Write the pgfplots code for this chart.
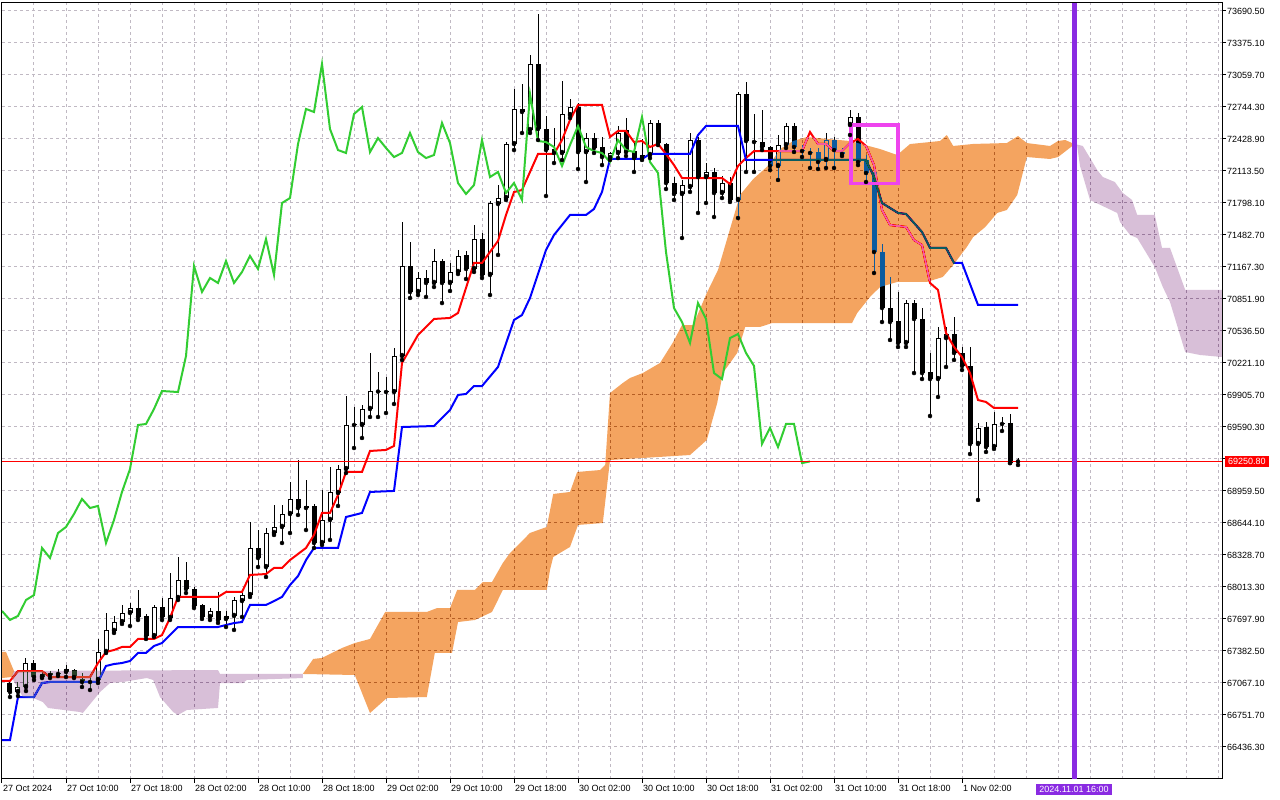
\documentclass[border=0pt]{standalone}
\usepackage{fontspec}
\setmainfont{Liberation Sans}
\usepackage{pgfplots}
\usepackage{pgfplotstable}
\pgfplotsset{compat=1.18}
\definecolor{gridc}{RGB}{192,185,195}
\definecolor{cloudA}{RGB}{11,91,159}
\definecolor{cloudB}{RGB}{39,64,39}
\definecolor{chikou}{RGB}{50,205,50}
\definecolor{vline}{RGB}{138,43,226}
\definecolor{boxpink}{RGB}{238,68,238}

\pgfplotstableread{
i o h l c
1 67067 67097 66929 66978
2 66978 67077 66939 67028
3 67028 67314 66988 67264
4 67264 67294 67097 67126
5 67126 67176 67116 67156
6 67166 67185 67116 67146
7 67166 67205 67136 67156
8 67176 67245 67126 67205
9 67195 67205 67116 67126
10 67106 67166 67028 67077
11 67077 67126 66998 67087
12 67097 67501 67067 67373
13 67373 67757 67363 67590
14 67580 67728 67560 67668
15 67668 67836 67649 67757
16 67757 67856 67629 67806
17 67806 67984 67688 67718
18 67728 67747 67501 67530
19 67530 67836 67521 67816
20 67816 67905 67688 67718
21 67708 68151 67688 67905
22 67905 68309 67885 68082
23 68082 68260 67954 67994
24 67994 68013 67806 67826
25 67836 67846 67698 67718
26 67718 67806 67688 67777
27 67777 67964 67659 67688
28 67698 67777 67619 67728
29 67728 67915 67590 67885
30 67875 67984 67718 67934
31 67934 68654 67915 68398
32 68398 68575 68210 68299
33 68210 68595 68112 68545
34 68545 68822 68526 68605
35 68605 68822 68447 68733
36 68733 69048 68545 68881
37 68881 69265 68723 68792
38 68792 69068 68575 68812
39 68812 68831 68398 68447
40 68447 68969 68427 68674
41 68674 69196 68477 68950
42 68940 69216 68812 69176
43 69176 69896 69137 69610
44 69610 69787 69383 69620
45 69610 69807 69482 69768
46 69768 70320 69689 69945
47 69945 70132 69689 69940
48 69945 70083 69728 69935
49 69935 70369 69817 70290
50 70290 71611 70251 71177
51 71177 71414 70862 70921
52 70921 71118 70891 71059
53 71059 71138 70872 71010
54 71010 71345 70970 71226
55 71226 71246 70812 71010
56 71010 71207 70931 71118
57 71118 71335 71098 71276
58 71286 71325 71049 71148
59 71148 71581 71118 71443
60 71443 71502 71059 71089
61 71089 71818 70891 71798
62 71788 71975 71286 71847
63 71847 72399 71828 72379
64 72379 72922 72320 72725
65 72725 72971 72488 72695
66 72517 73257 72488 73168
67 73168 73661 72419 72527
68 72527 72656 71867 72320
69 72330 72537 72192 72291
70 72291 73001 72222 72675
71 72665 72823 72636 72744
72 72744 72784 72133 72300
73 72300 72488 72005 72438
74 72438 72488 72291 72340
75 72350 72448 72172 72251
76 72241 72300 72222 72291
77 72291 72557 72241 72488
78 72517 72636 72261 72300
79 72310 72389 72104 72241
80 72241 72429 72222 72271
81 72271 72616 72241 72587
82 72587 72616 72369 72389
83 72379 72389 71936 71995
84 71995 72054 71828 71887
85 71887 72025 71453 71975
86 71956 72488 71907 72419
87 72419 72449 71700 72054
88 72054 72192 71798 72104
89 72104 72143 71660 71897
90 71897 72064 71847 71995
91 71995 72054 71808 71828
92 71828 72892 71650 72872
93 72872 72991 72104 72409
94 72409 72675 72104 72399
95 72399 72715 72320 72350
96 72350 72360 72123 72163
97 72163 72468 72025 72369
98 72369 72587 72340 72557
99 72557 72587 72301 72350
100 72320 72370 72251 72310
101 72301 72340 72143 72291
102 72301 72340 72133 72202
103 72222 72488 72143 72419
104 72419 72449 72143 72320
105 72281 72340 72261 72301
106 72567 72715 72468 72646
107 72646 72685 72172 72202
108 72222 72271 72005 72094
109 72104 72172 71108 71315
110 71315 71394 70625 70763
111 70763 71069 70448 70625
112 70635 70921 70379 70418
113 70418 70842 70379 70812
114 70812 70842 70122 70655
115 70655 70763 70063 70122
116 70132 70320 69699 70063
117 70063 70576 69886 70467
118 70467 70576 70182 70507
119 70507 70675 70251 70320
120 70320 70379 70152 70192
121 70192 70379 69324 69423
122 69423 69630 68871 69581
123 69590 69640 69344 69393
124 69393 69738 69374 69620
125 69630 69689 69551 69620
126 69630 69718 69235 69235
127 69255 69285 69216 69251
}\candles

\pgfplotstableread{
i p
0 67087
1 67087
2 67185
5 67185
6 67126
11 67126
12 67264
13 67373
14 67392
15 67422
16 67422
17 67501
19 67501
20 67540
21 67708
22 67915
27 67915
28 67964
30 67964
31 68132
33 68141
34 68201
35 68201
36 68279
38 68398
39 68526
40 68743
41 68743
42 68920
43 69147
45 69147
46 69354
48 69364
49 69403
50 70221
52 70497
54 70655
56 70665
57 70714
59 71207
60 71207
62 71424
63 71680
64 71906
65 71926
67 72281
69 72281
70 72419
71 72616
72 72764
75 72764
76 72449
77 72508
78 72508
79 72399
80 72409
81 72350
82 72380
83 72281
84 72172
85 72044
90 72044
91 71985
92 72163
93 72241
94 72310
100 72310
101 72498
102 72380
103 72380
104 72310
105 72310
106 72389
107 72429
108 72360
109 72172
110 71729
111 71581
113 71562
114 71433
115 71384
116 71010
117 70941
118 70517
119 70379
120 70280
121 70122
122 69856
123 69837
124 69778
127 69778
}\tenkan

\pgfplotstableread{
i p
0 66505
1 66505
2 66929
4 66929
5 67067
6 67077
12 67077
13 67235
14 67254
15 67264
16 67284
17 67363
18 67363
19 67432
20 67461
22 67619
27 67619
29 67658
30 67668
31 67836
33 67836
34 67875
35 67915
36 68033
37 68121
38 68279
39 68398
42 68398
43 68703
45 68743
46 68950
49 68960
50 69590
54 69600
56 69758
57 69906
58 69916
59 69994
60 69994
62 70182
64 70645
65 70694
66 70862
67 71098
68 71335
69 71483
70 71581
71 71680
73 71680
74 71739
75 71907
76 72232
80 72232
81 72281
86 72281
87 72468
88 72557
92 72557
93 72222
108 72222
109 72054
110 71798
112 71700
113 71690
115 71512
116 71355
118 71355
119 71207
120 71207
121 71000
122 70793
127 70793
}\kijun

\pgfplotstableread{
i p
0 67777
1 67688
2 67728
3 67885
4 67934
5 68398
6 68299
7 68545
8 68605
9 68733
10 68881
11 68792
12 68812
13 68447
14 68674
15 68950
16 69176
17 69610
18 69620
19 69768
20 69945
21 69940
22 69935
23 70290
24 71177
25 70921
26 71059
27 71010
28 71226
29 71010
30 71118
31 71276
32 71148
33 71443
34 71089
35 71798
36 71847
37 72379
38 72725
39 72695
40 73168
41 72527
42 72320
43 72291
44 72675
45 72744
46 72300
47 72438
48 72340
49 72251
50 72291
51 72488
52 72300
53 72241
54 72271
55 72587
56 72389
57 71995
58 71887
59 71975
60 72419
61 72054
62 72104
63 71897
64 71995
65 71828
66 72872
67 72409
68 72399
69 72350
70 72163
71 72369
72 72557
73 72350
74 72310
75 72291
76 72202
77 72419
78 72320
79 72301
80 72646
81 72202
82 72094
83 71315
84 70763
85 70625
86 70418
87 70812
88 70655
89 70122
90 70063
91 70467
92 70507
93 70320
94 70192
95 69423
96 69581
97 69393
98 69620
99 69620
100 69235
101 69251
}\chikoutab

\begin{document}
\begin{tikzpicture}
\fill[white] (0,0) rectangle (1280pt,800pt);
\useasboundingbox (0,0) rectangle (1280pt,800pt);
\begin{axis}[
  at={(2pt,21pt)}, anchor=south west,
  scale only axis, width=1220pt, height=776pt,
  xmin=0, xmax=152.5, ymin=66120.9, ymax=73769.3,
  scaled x ticks=false, scaled y ticks=false,
  axis line style={black, line width=1pt},
  tick align=outside,
  major tick length=4pt, minor tick length=0pt,
  tick style={black, line width=1pt},
  xtick pos=bottom, ytick pos=right, yticklabel pos=right,
  xtick={0,8,...,120},
  xticklabels={27 Oct 2024,27 Oct 10:00,27 Oct 18:00,28 Oct 02:00,28 Oct 10:00,28 Oct 18:00,29 Oct 02:00,29 Oct 10:00,29 Oct 18:00,30 Oct 02:00,30 Oct 10:00,30 Oct 18:00,31 Oct 02:00,31 Oct 10:00,31 Oct 18:00,1 Nov 02:00},
  minor xtick={0,4,...,152},
  xmajorgrids=false, xminorgrids=true, ymajorgrids=true,
  grid style={gridc, dash pattern=on 3pt off 3pt, line width=1pt},
  ytick={66436.3,66751.7,67067.1,67382.5,67697.9,68013.3,68328.7,68644.1,68959.5,69274.9,69590.3,69905.7,70221.1,70536.5,70851.9,71167.3,71482.7,71798.1,72113.5,72428.9,72744.3,73059.7,73375.1,73690.5},
  yticklabels={66436.30,66751.70,67067.10,67382.50,67697.90,68013.30,68328.70,68644.10,68959.50,{},69590.30,69905.70,70221.10,70536.50,70851.90,71167.30,71482.70,71798.10,72113.50,72428.90,72744.30,73059.70,73375.10,73690.50},
  xticklabel style={anchor=north west, inner sep=0pt, xshift=1pt, yshift=-2.5pt, font=\fontsize{9}{10}\selectfont},
  yticklabel style={anchor=west, inner sep=0pt, xshift=1pt, font=\fontsize{9}{10}\selectfont},
]
% wicks
\addplot[only marks, mark=none, error bars/.cd, y dir=plus, y explicit, error mark=none,
  error bar style={line width=1pt, black}]
  table[x=i, y=l, y error plus expr=\thisrow{h}-\thisrow{l}] {\candles};
% bodies (outline / black)
\addplot[only marks, mark=none, error bars/.cd, y dir=plus, y explicit, error mark=none,
  error bar style={line width=5pt, black}]
  table[x=i, y expr={min(\thisrow{o},\thisrow{c})}, y error plus expr={max(abs(\thisrow{c}-\thisrow{o}),9)}] {\candles};
% bullish interior
\addplot[only marks, mark=none, restrict expr to domain={\thisrow{c}-\thisrow{o}}{22:100000},
  error bars/.cd, y dir=plus, y explicit, error mark=none,
  error bar style={line width=3pt, white}]
  table[x=i, y expr={\thisrow{o}+9.86}, y error plus expr={\thisrow{c}-\thisrow{o}-19.7}] {\candles};
% tenkan and kijun
\addplot[red, line width=2pt] table[x=i, y=p] {\tenkan};
\addplot[blue, line width=2pt] table[x=i, y=p] {\kijun};
% cloud (drawn with difference blending as the platform does)
\addplot[draw=none, fill=cloudA, blend mode=difference] coordinates {(0,67373) (0.5,67373) (1.5,67185) (1.2,67126) (0,67116)} -- cycle;
\addplot[draw=none, fill=cloudB, blend mode=difference] coordinates {(1.5,67185) (27,67195) (27.25,67156) (37.6,67156) (37.6,67116) (30.6,67097) (30.1,67067) (27.25,67067) (27,66821) (23.1,66801) (22,66752) (21.4,66781) (19.75,66929) (18.9,67097) (18.1,67116) (15.1,67077) (13.5,67067) (12.25,66978) (10.1,66771) (9.75,66781) (5.75,66821) (5.1,66880) (3.9,66919) (2.6,66929) (1.2,67126)} -- cycle;
\addplot[draw=none, fill=cloudA, blend mode=difference] coordinates {(37.6,67156) (38.9,67304) (40,67314) (42.5,67412) (44.1,67461) (46,67501) (47.9,67767) (53.1,67767) (54.4,67806) (56,67806) (56.9,67984) (59.1,67984) (60.1,68062) (61.25,68062) (62.6,68250) (63.5,68348) (64.4,68418) (66,68546) (68.1,68605) (68.9,68930) (71,68950) (71.9,69147) (74.75,69166) (75.4,69216) (76,69925) (77.6,70024) (78.5,70073) (80.1,70122) (82.25,70221) (83.9,70428) (85,70595) (86.4,70595) (88.1,70911) (89.5,71138) (92.25,71877) (93.9,72034) (96,72182) (97.25,72330) (98.9,72409) (100.6,72448) (106,72409) (109.75,72330) (111.9,72271) (113.5,72379) (117.25,72409) (118.1,72468) (118.9,72360) (121.4,72380) (125.6,72389) (127,72458) (128.1,72389) (131,72360) (132,72409) (132.9,72419) (133.75,72389) (134.1,72379) (132,72251) (131,72232) (128.1,72251) (127.6,72094) (126.9,71877) (125.6,71729) (124.4,71700) (122.9,71561) (121.4,71463) (120.6,71364) (118.9,71187) (117.6,71069) (115.6,71020) (111.9,71020) (109.75,70970) (108.5,70872) (106.9,70714) (106.25,70615) (96.25,70615) (94.75,70576) (92.9,70576) (91.9,70320) (90.1,70122) (89.4,69827) (88.1,69462) (86,69314) (80.1,69285) (76,69265) (75.1,68644) (72,68625) (71,68408) (68.9,68309) (68.5,68181) (68.1,67984) (62.6,67984) (61.25,67767) (59.1,67688) (57,67668) (56.25,67363) (54.1,67363) (53.1,66929) (48.1,66919) (46,66771) (44.1,67146)} -- cycle;
\addplot[draw=none, fill=cloudB, blend mode=difference] coordinates {(134.1,72379) (135.1,72360) (136.9,72123) (137.6,72054) (139.1,72005) (140.1,71897) (141.25,71828) (141.9,71680) (144.1,71680) (145,71355) (146,71355) (147.9,70941) (152.5,70941) (152.5,70280) (149.75,70300) (147.9,70329) (146,70822) (145.1,70970) (144.1,71167) (141.9,71453) (141,71483) (139.75,71611) (139.4,71700) (136,71828) (134.75,72163) (134.4,72360)} -- cycle;
% chikou
\addplot[chikou, line width=2pt] table[x=i, y=p] {\chikoutab};
% current price line, marker box, vertical line
\draw[red, line width=1pt] (axis cs:0,69250.8) -- (axis cs:152.5,69250.8);
\draw[boxpink, line width=3.5pt] (axis cs:106.1,72569) rectangle (axis cs:112.0,71992);
\draw[vline, line width=5pt] (axis cs:134,66120.9) -- (axis cs:134,73769.3);
\coordinate (pl) at (axis cs:152.5,69250.8);
\coordinate (pv) at (axis cs:134,66120.9);
\end{axis}
\node[anchor=west, xshift=3pt, fill=red, text=white, inner xsep=3pt, inner ysep=2pt, font=\fontsize{9}{10}\selectfont] at (pl) {69250.80};
\node[anchor=north, yshift=-5pt, fill=vline, text=white, inner xsep=3.5pt, inner ysep=2pt, font=\fontsize{9}{10}\selectfont] at (pv) {2024.11.01 16:00};
\end{tikzpicture}
\end{document}
